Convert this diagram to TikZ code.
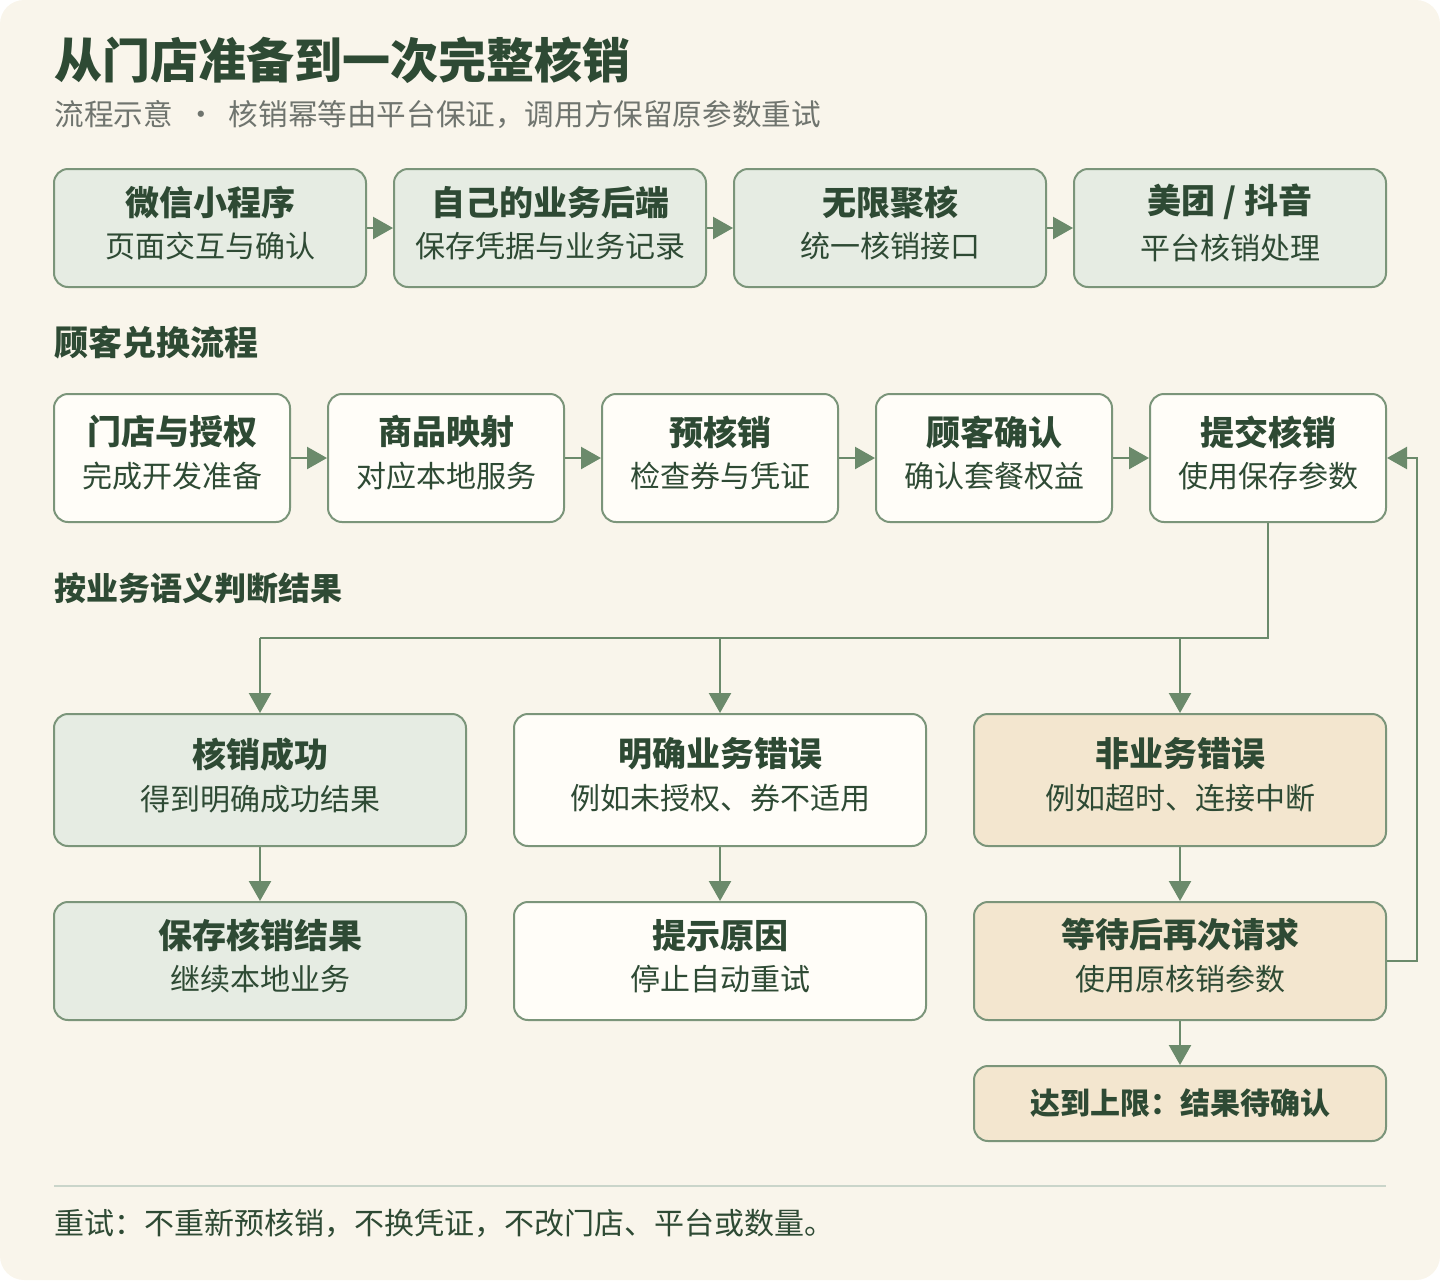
\documentclass[tikz,border=0pt]{standalone}
\usepackage{fontspec}
\setmainfont{Noto Sans CJK SC}
\usetikzlibrary{arrows.meta, positioning}
\definecolor{bgc}{HTML}{F9F5EB}
\definecolor{edgec}{HTML}{7B957A}
\definecolor{greenf}{HTML}{E6ECE3}
\definecolor{whitef}{HTML}{FFFDF8}
\definecolor{beigef}{HTML}{F3E6CF}
\definecolor{darkt}{HTML}{2E4A34}
\definecolor{grayt}{HTML}{6F746E}
\definecolor{arrc}{HTML}{6B8A6B}
\tikzset{
  box/.style={draw=edgec, line width=1pt, rounded corners=7pt, align=center,
    text=darkt, inner sep=0pt},
  green/.style={box, fill=greenf},
  white/.style={box, fill=whitef},
  beige/.style={box, fill=beigef},
  flow/.style={draw=arrc, line width=1.2pt, -{Triangle[length=10pt,width=11pt]}},
  head/.style={font=\fontsize{17}{19}\selectfont\bfseries},
  sub/.style={font=\fontsize{15}{17}\selectfont}
}
\newcommand{\two}[2]{{\fontsize{17}{19}\selectfont\bfseries #1}\\[6pt]{\fontsize{15}{17}\selectfont #2}}
\newcommand{\tbox}[6]{\node[#1, minimum width=#2, minimum height=#3] (#4) at (#5) {};
  \node[align=center, text=darkt, inner sep=0pt] at ([yshift=2.5pt]#4.center) {#6};}
\begin{document}
\begin{tikzpicture}[x=0.5pt, y=-0.5pt]
\useasboundingbox (0,0) rectangle (1440,1280);
\fill[bgc, rounded corners=12pt] (0,0) rectangle (1440,1280);

% title
\node[anchor=west, text=darkt, font=\fontsize{24}{26}\selectfont\bfseries, inner sep=0pt] (title) at (54,60) {从门店准备到一次完整核销};
\node[anchor=west, text=grayt, font=\fontsize{14.8}{17}\selectfont, inner sep=0pt] (subtitle) at (54,115) {流程示意 \ · \ 核销幂等由平台保证，调用方保留原参数重试};

% architecture row
\foreach \n/\x/\a/\b in {m1/210/微信小程序/页面交互与确认, m2/550/自己的业务后端/保存凭据与业务记录,
                         m3/890/无限聚核/统一核销接口, m4/1230/{美团\ /\ 抖音}/平台核销处理}
  {\tbox{green}{156pt}{59pt}{\n}{\x,228}{\two{\a}{\b}}}
\foreach \p/\q in {m1/m2, m2/m3, m3/m4}
  \draw[flow] (\p) -- (\q);

\node[anchor=west, head, text=darkt, inner sep=0pt] (sec1) at (54,343) {顾客兑换流程};

% redemption row
\foreach \n/\x/\a/\b in {s1/172/门店与授权/完成开发准备, s2/446/商品映射/对应本地服务,
                         s3/720/预核销/检查券与凭证, s4/994/顾客确认/确认套餐权益, s5/1268/提交核销/使用保存参数}
  {\tbox{white}{118pt}{64pt}{\n}{\x,458}{\two{\a}{\b}}}
\foreach \p/\q in {s1/s2, s2/s3, s3/s4, s4/s5}
  \draw[flow] (\p) -- (\q);

\node[anchor=west, font=\fontsize{16}{18}\selectfont\bfseries, text=darkt, inner sep=0pt] (sec2) at (54,588) {按业务语义判断结果};

% results
\tbox{green}{206pt}{66pt}{ok}{260,780}{\two{核销成功}{得到明确成功结果}}
\tbox{white}{206pt}{66pt}{biz}{720,780}{\two{明确业务错误}{例如未授权、券不适用}}
\tbox{beige}{206pt}{66pt}{net}{1180,780}{\two{非业务错误}{例如超时、连接中断}}
\tbox{green}{206pt}{59pt}{save}{260,961}{\two{保存核销结果}{继续本地业务}}
\tbox{white}{206pt}{59pt}{stop}{720,961}{\two{提示原因}{停止自动重试}}
\tbox{beige}{206pt}{59pt}{wait}{1180,961}{\two{等待后再次请求}{使用原核销参数}}
\node[beige, minimum width=206pt, minimum height=37.5pt, font=\fontsize{15}{17}\selectfont\bfseries] (lim) at (1180,1103.5) {达到上限：结果待确认};

\coordinate (j) at (1268,638);
\draw[draw=arrc, line width=1.2pt] (s5.south) -- (j) -- (260,638);
\draw[flow] (260,638) -- (ok.north);
\draw[flow] (720,638) -- (biz.north);
\draw[flow] (1180,638) -- (net.north);
\draw[flow] (ok) -- (save);
\draw[flow] (biz) -- (stop);
\draw[flow] (net) -- (wait);
\draw[flow] (wait) -- (lim);
\draw[flow] (wait.east) -- ++(30,0) |- (s5.east);

% footer
\draw[draw=edgec!40, line width=1pt] (54,1186) -- (1386,1186);
\node[anchor=west, text=darkt, sub, inner sep=0pt] (note) at (54,1223) {重试：不重新预核销，不换凭证，不改门店、平台或数量。};
\end{tikzpicture}
\end{document}
